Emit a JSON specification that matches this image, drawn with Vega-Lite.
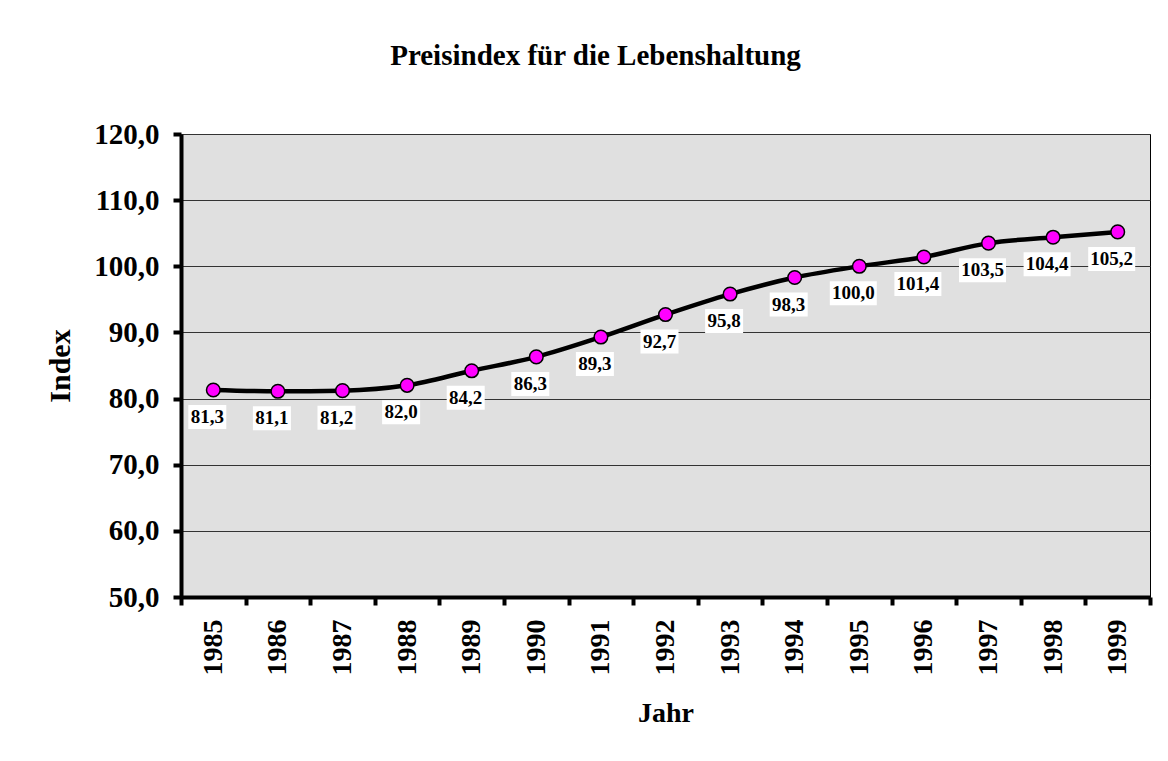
{
  "$schema": "https://vega.github.io/schema/vega-lite/v6.json",
  "width": 969,
  "height": 463,
  "autosize": "none",
  "padding": {"left": 181, "top": 134, "right": 18, "bottom": 164},
  "background": "white",
  "title": {
    "text": "Preisindex für die Lebenshaltung",
    "font": "Liberation Serif",
    "fontSize": 29,
    "fontWeight": "bold",
    "color": "black",
    "offset": 49,
    "dx": -70,
    "anchor": "middle"
  },
  "data": {
    "values": [
      {"Jahr": "1985", "Index": 81.3},
      {"Jahr": "1986", "Index": 81.1},
      {"Jahr": "1987", "Index": 81.2},
      {"Jahr": "1988", "Index": 82.0},
      {"Jahr": "1989", "Index": 84.2},
      {"Jahr": "1990", "Index": 86.3},
      {"Jahr": "1991", "Index": 89.3},
      {"Jahr": "1992", "Index": 92.7},
      {"Jahr": "1993", "Index": 95.8},
      {"Jahr": "1994", "Index": 98.3},
      {"Jahr": "1995", "Index": 100.0},
      {"Jahr": "1996", "Index": 101.4},
      {"Jahr": "1997", "Index": 103.5},
      {"Jahr": "1998", "Index": 104.4},
      {"Jahr": "1999", "Index": 105.2}
    ]
  },
  "transform": [
    {"calculate": "replace(format(datum.Index, '.1f'), '.', ',')", "as": "label"}
  ],
  "encoding": {
    "x": {
      "field": "Jahr",
      "type": "ordinal",
      "scale": {"paddingInner": 0, "paddingOuter": 0},
      "axis": {
        "title": "Jahr",
        "labelAngle": -90,
        "labelFont": "Liberation Serif",
        "labelFontSize": 28,
        "labelFontWeight": "bold",
        "labelColor": "black",
        "labelPadding": 14,
        "titleFont": "Liberation Serif",
        "titleFontSize": 28,
        "titleFontWeight": "bold",
        "titleColor": "black",
        "titlePadding": 24,
        "domainColor": "black",
        "domainWidth": 4,
        "tickColor": "black",
        "tickWidth": 4,
        "tickSize": 8,
        "tickBand": "extent",
        "grid": false
      }
    },
    "y": {
      "field": "Index",
      "type": "quantitative",
      "scale": {"domain": [50, 120], "nice": false, "zero": false},
      "axis": {
        "title": "Index",
        "values": [50, 60, 70, 80, 90, 100, 110, 120],
        "labelExpr": "replace(format(datum.value, '.1f'), '.', ',')",
        "labelFont": "Liberation Serif",
        "labelFontSize": 29,
        "labelFontWeight": "bold",
        "labelColor": "black",
        "labelPadding": 14,
        "titleFont": "Liberation Serif",
        "titleFontSize": 30,
        "titleFontWeight": "bold",
        "titleColor": "black",
        "titlePadding": 18,
        "domainColor": "black",
        "domainWidth": 4,
        "tickColor": "black",
        "tickWidth": 4,
        "tickSize": 8,
        "grid": true,
        "gridColor": "#333333",
        "gridWidth": 1
      }
    }
  },
  "layer": [
    {
      "mark": {"type": "line", "color": "black", "strokeWidth": 4.5, "interpolate": "monotone"}
    },
    {
      "mark": {"type": "point", "filled": true, "fill": "#FF00FF", "stroke": "black", "strokeWidth": 1.5, "size": 185, "opacity": 1}
    },
    {
      "transform": [{"filter": "datum.Index < 100"}],
      "mark": {"type": "tick", "color": "white", "opacity": 1, "orient": "horizontal", "size": 38, "thickness": 24, "yOffset": 27, "xOffset": -6}
    },
    {
      "transform": [{"filter": "datum.Index >= 100"}],
      "mark": {"type": "tick", "color": "white", "opacity": 1, "orient": "horizontal", "size": 47, "thickness": 24, "yOffset": 27, "xOffset": -6}
    },
    {
      "mark": {"type": "text", "font": "Liberation Serif", "fontSize": 19, "fontWeight": "bold", "color": "black", "dy": 27, "dx": -6, "baseline": "middle"},
      "encoding": {"text": {"field": "label"}}
    }
  ],
  "config": {
    "view": {"fill": "#e0e0e0", "stroke": "black", "strokeWidth": 1}
  }
}
